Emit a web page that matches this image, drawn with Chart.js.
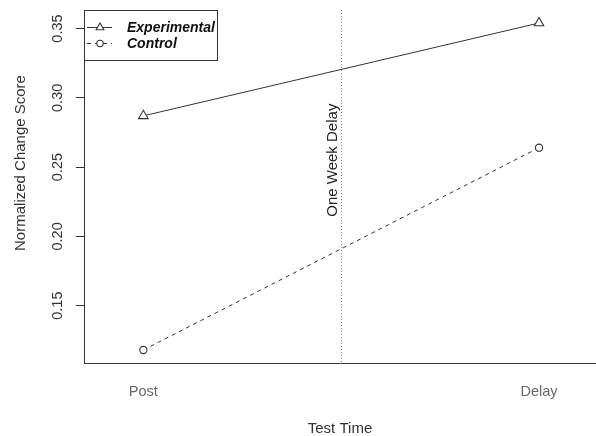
<!DOCTYPE html>
<html>
<head>
<meta charset="utf-8">
<script src="https://cdn.jsdelivr.net/npm/chart.js@4/dist/chart.umd.min.js"></script>
<style>
  html, body { margin: 0; padding: 0; background: #fff; }
  canvas { display: block; }
</style>
</head>
<body>
<canvas id="c" width="596" height="436"></canvas>
<script>
// ---- data ----
const categories = ['Post', 'Delay'];
const experimental = [0.287, 0.354];
const control = [0.118, 0.264];
const yTicks = [0.15, 0.20, 0.25, 0.30, 0.35];
const seriesNames = ['Experimental', 'Control'];
const yTitle = 'Normalized Change Score';
const xTitle = 'Test Time';
const annotationText = 'One Week Delay';
const annotationX = 1.5;
const annotationY = 0.255;

const FONT = '"Liberation Sans", Arial, Helvetica, sans-serif';
const INK = '#333333';

const toXY = arr => arr.map((v, i) => ({ x: i + 1, y: v }));

const overlay = {
  id: 'overlay',
  beforeDatasetsDraw(chart) {
    const { ctx, chartArea, scales } = chart;
    const x = scales.x, y = scales.y;
    // dotted vertical line
    const px = Math.round(x.getPixelForValue(annotationX)) + 0.5;
    ctx.save();
    ctx.strokeStyle = '#8a8a8a';
    ctx.lineWidth = 1;
    ctx.setLineDash([1, 2]);
    ctx.beginPath();
    ctx.moveTo(px, chartArea.top);
    ctx.lineTo(px, chartArea.bottom);
    ctx.stroke();
    ctx.restore();
    // rotated annotation
    ctx.save();
    ctx.translate(px - 9, y.getPixelForValue(annotationY));
    ctx.rotate(-Math.PI / 2);
    ctx.font = '15px ' + FONT;
    ctx.fillStyle = '#222';
    ctx.textAlign = 'center';
    ctx.textBaseline = 'middle';
    ctx.fillText(annotationText, 0, 0);
    ctx.restore();
  },
  afterDraw(chart) {
    const { ctx, chartArea, scales } = chart;
    const y = scales.y;
    // y tick labels, rotated like R's default
    ctx.save();
    ctx.font = '14.5px ' + FONT;
    ctx.fillStyle = INK;
    ctx.textAlign = 'center';
    ctx.textBaseline = 'middle';
    y.ticks.forEach(t => {
      ctx.save();
      ctx.translate(58, y.getPixelForValue(t.value));
      ctx.rotate(-Math.PI / 2);
      ctx.fillText(t.value.toFixed(2), 0, 0);
      ctx.restore();
    });
    ctx.restore();
    // y title
    ctx.save();
    ctx.translate(21, 163);
    ctx.rotate(-Math.PI / 2);
    ctx.font = '15px ' + FONT;
    ctx.fillStyle = INK;
    ctx.textAlign = 'center';
    ctx.textBaseline = 'middle';
    ctx.fillText(yTitle, 0, 0);
    ctx.restore();
    // legend
    const lx = chartArea.left, ly = chartArea.top;
    ctx.save();
    ctx.fillStyle = '#fff';
    ctx.fillRect(lx + 0.5, ly + 0.5, 133, 50);
    ctx.strokeStyle = INK;
    ctx.lineWidth = 1;
    ctx.strokeRect(lx + 0.5, ly + 0.5, 133, 50);
    chart.data.datasets.forEach((ds, i) => {
      const rowY = ly + 17 + i * 16;
      ctx.save();
      ctx.strokeStyle = ds.borderColor;
      ctx.lineWidth = 1;
      ctx.setLineDash(ds.borderDash || []);
      ctx.beginPath();
      ctx.moveTo(lx + 3, rowY + 0.5);
      ctx.lineTo(lx + 28, rowY + 0.5);
      ctx.stroke();
      ctx.setLineDash([]);
      ctx.fillStyle = '#fff';
      ctx.strokeStyle = ds.pointBorderColor;
      ctx.lineWidth = 1.1;
      Chart.helpers.drawPoint(ctx, {
        pointStyle: ds.pointStyle,
        radius: ds.pointStyle === 'triangle' ? 4.5 : 3.2,
        rotation: 0,
        borderWidth: 1.1
      }, lx + 16, rowY + 0.5);
      ctx.restore();
      ctx.font = 'italic bold 14px ' + FONT;
      ctx.fillStyle = '#111';
      ctx.textAlign = 'left';
      ctx.textBaseline = 'middle';
      ctx.fillText(ds.label, lx + 43, rowY + 1);
    });
    ctx.restore();
  }
};

new Chart(document.getElementById('c'), {
  type: 'line',
  data: {
    datasets: [
      {
        label: seriesNames[0],
        data: toXY(experimental),
        borderColor: INK,
        borderWidth: 1,
        pointStyle: 'triangle',
        pointRadius: 5.5,
        pointBorderColor: INK,
        pointBackgroundColor: '#fff',
        pointBorderWidth: 1.1,
        fill: false
      },
      {
        label: seriesNames[1],
        data: toXY(control),
        borderColor: INK,
        borderWidth: 1,
        borderDash: [4, 4],
        pointStyle: 'circle',
        pointRadius: 3.6,
        pointBorderColor: INK,
        pointBackgroundColor: '#fff',
        pointBorderWidth: 1.1,
        fill: false
      }
    ]
  },
  options: {
    responsive: false,
    animation: false,
    devicePixelRatio: 1,
    layout: { autoPadding: false, padding: { top: 10, left: 0, right: 0, bottom: 0 } },
    plugins: { legend: { display: false }, tooltip: { enabled: false } },
    scales: {
      x: {
        type: 'linear',
        min: 0.85,
        max: 2.144,
        afterBuildTicks: s => { s.ticks = categories.map((c, i) => ({ value: i + 1 })); },
        afterFit: s => { s.height = 73; },
        grid: { display: false, drawTicks: false },
        border: { display: true, color: INK, width: 1 },
        ticks: {
          padding: 20,
          autoSkip: false,
          maxRotation: 0,
          color: '#666',
          font: { family: FONT, size: 14.5 },
          callback: v => categories[Math.round(v) - 1] || ''
        },
        title: {
          display: true,
          text: xTitle,
          color: INK,
          font: { family: FONT, size: 15 },
          padding: { top: 0, bottom: -2 }
        }
      },
      y: {
        type: 'linear',
        min: 0.1086,
        max: 0.3634,
        afterBuildTicks: s => { s.ticks = yTicks.map(v => ({ value: v })); },
        afterFit: s => { s.width = 84; },
        grid: { display: true, drawOnChartArea: false, drawTicks: true, tickLength: 8, color: INK, lineWidth: 1 },
        border: { display: true, color: INK, width: 1 },
        ticks: { display: false },
        title: { display: false }
      }
    }
  },
  plugins: [overlay]
});
</script>
</body>
</html>
